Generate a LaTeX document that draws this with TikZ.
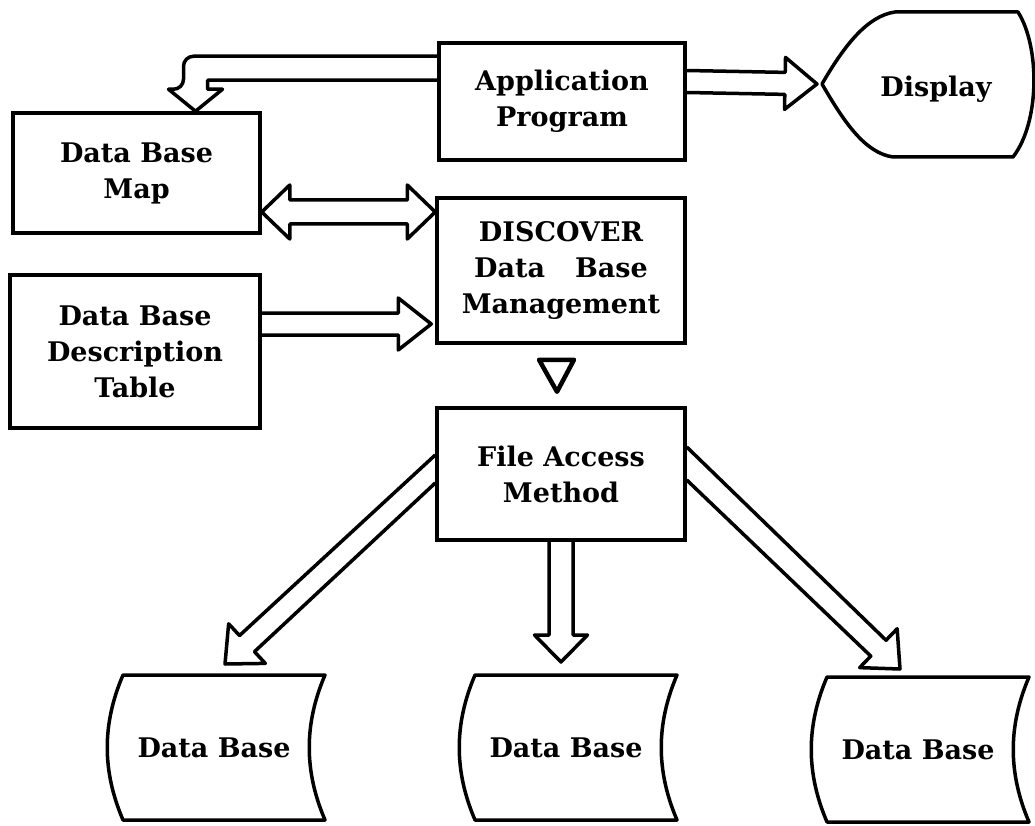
\documentclass[tikz,border=0pt]{standalone}
\usepackage{fontspec}
\setmainfont{DejaVu Serif}
\usetikzlibrary{calc}
\newcommand\lbl{\bfseries\fontsize{27}{36}\selectfont}
\tikzset{
  box/.style={draw, line width=3.5pt, inner sep=0pt, align=center, font=\lbl},
  txt/.style={inner sep=0pt, align=center, font=\lbl},
  arrline/.style={draw, line width=3.5pt, line join=round},
  dline/.style={draw, line width=3.5pt, line join=round}
}
% single hollow arrow: start1, start2, tip, half shaft, half head, head length
\newcommand\hollowarr[6]{%
  \path (#1) coordinate (ha1) (#2) coordinate (ha2) (#3) coordinate (hb);
  \path ($(ha1)!0.5!(ha2)$) coordinate (ha);
  \path ($(hb)!#6!(ha)$) coordinate (hh);
  \draw[arrline] (ha1) -- ($(hh)!#4!-90:(ha)$) -- ($(hh)!#5!-90:(ha)$) -- (hb)
     -- ($(hh)!#5!90:(ha)$) -- ($(hh)!#4!90:(ha)$) -- (ha2);
}
% double hollow arrow: tip a, tip b, half shaft, half head, head length
\newcommand\hollowdbl[5]{%
  \path (#1) coordinate (ha) (#2) coordinate (hb);
  \path ($(hb)!#5!(ha)$) coordinate (hh) ($(ha)!#5!(hb)$) coordinate (hg);
  \draw[arrline] (ha) -- ($(hg)!#4!90:(hb)$) -- ($(hg)!#3!90:(hb)$)
     -- ($(hh)!#3!-90:(ha)$) -- ($(hh)!#4!-90:(ha)$) -- (hb)
     -- ($(hh)!#4!90:(ha)$) -- ($(hh)!#3!90:(ha)$)
     -- ($(hg)!#3!-90:(hb)$) -- ($(hg)!#4!-90:(hb)$) -- cycle;
}
\newcommand\drumshape[1]{%
  \draw[dline] ($(#1.center)+(-91,-73)$) -- ($(#1.center)+(111,-73)$)
     .. controls +(-21,49) and +(-21,-49) .. ($(#1.center)+(111,72)$)
     -- ($(#1.center)+(-91,72)$)
     .. controls +(-21,-49) and +(-21,49) .. ($(#1.center)+(-91,-73)$) -- cycle;
}
\begin{document}
\begin{tikzpicture}[x=1pt,y=-1pt]
\useasboundingbox (0,0) rectangle (1035,826);
\fill[white] (0,0) rectangle (1035,826);

\node[box, minimum width=246pt, minimum height=117pt] (app) at (562,101.5) {Application\\Program};
\node[box, minimum width=247pt, minimum height=120pt] (map) at (136.5,173) {Data Base\\Map};
\node[box, minimum width=248pt, minimum height=145pt] (disc) at (561,270.5) {DISCOVER\\Data\hspace{30pt}Base\\Management};
\node[box, minimum width=250pt, minimum height=153pt] (desc) at (135,351.5) {Data Base\\Description\\Table};
\node[box, minimum width=248pt, minimum height=132pt] (fa) at (561,474) {File Access\\Method};
\node[txt] (disp) at (936,89) {Display};
\node[txt] (db1) at (214,748) {Data Base};
\node[txt] (db2) at (566,748) {Data Base};
\node[txt] (db3) at (918,750) {Data Base};

% display outline
\coordinate (disptip) at ($(disp.center)+(-114,-5)$);
\draw[dline] (disptip) .. controls +(22,-38) and +(-28,4) .. ($(disp.center)+(-41,-77)$)
  -- ($(disp.center)+(82,-77)$)
  .. controls +(22,35) and +(27,-35) .. ($(disp.center)+(77,68)$)
  -- ($(disp.center)+(-43,68)$)
  .. controls +(-28,-4) and +(22,38) .. (disptip) -- cycle;

% drums
\drumshape{db1}
\drumshape{db2}
\drumshape{db3}

% bent arrow application -> data base map
\coordinate (bt) at ($(map.north)+(59,0)$);
\draw[arrline] ($(app.north west)+(0,15)$) [rounded corners=10pt] -| ($(bt)+(-12,-22)$)
  [sharp corners] -- ($(bt)+(-27,-22)$) -- (bt) -- ($(bt)+(27,-22)$) -- ($(bt)+(12,-22)$)
  |- ($(app.north west)+(0,39)$);

% application -> display
\hollowarr{$(app.east)+(0,-31)$}{$(app.east)+(0,-9)$}{$(disptip)+(-5,0)$}{11pt}{26pt}{32pt}
% map <-> discover
\hollowdbl{$(map.east)+(0,39)$}{$(disc.west |- map.east)+(0,39)$}{12pt}{27pt}{28pt}
% description -> discover
\hollowarr{$(desc.east)+(0,-38.5)$}{$(desc.east)+(0,-16.5)$}{$(disc.west |- desc.east)+(-4,-27.5)$}{11pt}{26pt}{33pt}
% discover -> file access (arrow head only)
\draw[line width=4.5pt, line join=round] ($(disc.south)+(-22,15)$) -- ($(disc.south)+(13,15)$) -- ($(disc.south)+(-4,47)$) -- cycle;
% file access -> data bases
\hollowarr{$(fa.west)+(0,9)$}{$(fa.west)+(0,-19)$}{$(db1.center)+(11,-84)$}{11pt}{27pt}{30pt}
\hollowarr{$(fa.south)+(12,0)$}{$(fa.south)+(-12,0)$}{$(fa.south |- db2.center)+(0,-86)$}{12pt}{26.5pt}{27pt}
\hollowarr{$(fa.east)+(0,-27)$}{$(fa.east)+(0,6)$}{$(db3.center)+(-18,-81)$}{11pt}{27pt}{30pt}
\end{tikzpicture}
\end{document}
